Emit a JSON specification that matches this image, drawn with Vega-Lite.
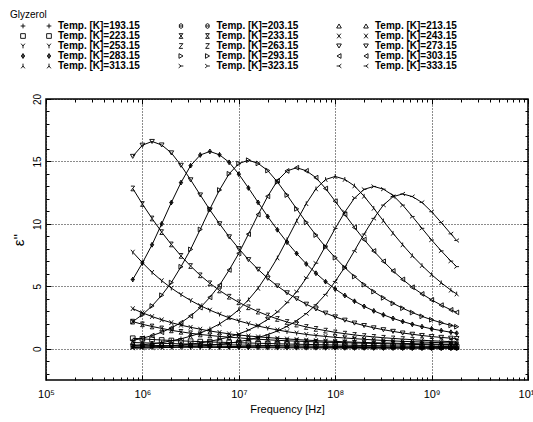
{
"$schema":"https://vega.github.io/schema/vega-lite/v6.json",
"width":482,"height":281,
"autosize":{"type":"none"},
"padding":{"left":46,"top":99,"right":5,"bottom":42},
"background":"white",
"config":{"view":{"stroke":"black","strokeWidth":1.5},"font":"Liberation Sans","axis":{"labelFont":"Liberation Sans","titleFont":"Liberation Sans","labelColor":"black","titleColor":"black","tickColor":"black"}},
"title":{"text":"Glyzerol","anchor":"start","frame":"group","fontSize":10,"fontWeight":"normal","font":"Liberation Sans","color":"black","dx":-36,"offset":1},
"data":{"values":[
{"T":193.15,"f":7.943e5,"e":0.16},{"T":193.15,"f":1e6,"e":0.153},{"T":193.15,"f":1.259e6,"e":0.147},{"T":193.15,"f":1.585e6,"e":0.14},{"T":193.15,"f":1.995e6,"e":0.133},{"T":193.15,"f":2.512e6,"e":0.127},{"T":193.15,"f":3.162e6,"e":0.122},{"T":193.15,"f":3.981e6,"e":0.115},{"T":193.15,"f":5.012e6,"e":0.111},{"T":193.15,"f":6.31e6,"e":0.107},{"T":193.15,"f":7.943e6,"e":0.102},{"T":193.15,"f":1e7,"e":0.098},{"T":193.15,"f":1.259e7,"e":0.093},{"T":193.15,"f":1.585e7,"e":0.089},{"T":193.15,"f":1.995e7,"e":0.084},{"T":193.15,"f":2.512e7,"e":0.08},{"T":193.15,"f":3.162e7,"e":0.078},{"T":193.15,"f":3.981e7,"e":0.073},{"T":193.15,"f":5.012e7,"e":0.071},{"T":193.15,"f":6.31e7,"e":0.067},{"T":193.15,"f":7.943e7,"e":0.064},{"T":193.15,"f":1e8,"e":0.062},{"T":193.15,"f":1.259e8,"e":0.058},{"T":193.15,"f":1.585e8,"e":0.056},{"T":193.15,"f":1.995e8,"e":0.053},{"T":193.15,"f":2.512e8,"e":0.051},{"T":193.15,"f":3.162e8,"e":0.049},{"T":193.15,"f":3.981e8,"e":0.047},{"T":193.15,"f":5.012e8,"e":0.044},{"T":193.15,"f":6.31e8,"e":0.042},{"T":193.15,"f":7.943e8,"e":0.04},{"T":193.15,"f":1e9,"e":0.038},{"T":193.15,"f":1.259e9,"e":0.038},{"T":193.15,"f":1.585e9,"e":0.036},{"T":193.15,"f":1.82e9,"e":0.036},
{"T":203.15,"f":7.943e5,"e":0.297},{"T":203.15,"f":1e6,"e":0.282},{"T":203.15,"f":1.259e6,"e":0.271},{"T":203.15,"f":1.585e6,"e":0.258},{"T":203.15,"f":1.995e6,"e":0.247},{"T":203.15,"f":2.512e6,"e":0.234},{"T":203.15,"f":3.162e6,"e":0.224},{"T":203.15,"f":3.981e6,"e":0.215},{"T":203.15,"f":5.012e6,"e":0.204},{"T":203.15,"f":6.31e6,"e":0.196},{"T":203.15,"f":7.943e6,"e":0.187},{"T":203.15,"f":1e7,"e":0.178},{"T":203.15,"f":1.259e7,"e":0.17},{"T":203.15,"f":1.585e7,"e":0.163},{"T":203.15,"f":1.995e7,"e":0.155},{"T":203.15,"f":2.512e7,"e":0.148},{"T":203.15,"f":3.162e7,"e":0.142},{"T":203.15,"f":3.981e7,"e":0.135},{"T":203.15,"f":5.012e7,"e":0.129},{"T":203.15,"f":6.31e7,"e":0.123},{"T":203.15,"f":7.943e7,"e":0.118},{"T":203.15,"f":1e8,"e":0.112},{"T":203.15,"f":1.259e8,"e":0.108},{"T":203.15,"f":1.585e8,"e":0.103},{"T":203.15,"f":1.995e8,"e":0.099},{"T":203.15,"f":2.512e8,"e":0.095},{"T":203.15,"f":3.162e8,"e":0.09},{"T":203.15,"f":3.981e8,"e":0.086},{"T":203.15,"f":5.012e8,"e":0.082},{"T":203.15,"f":6.31e8,"e":0.077},{"T":203.15,"f":7.943e8,"e":0.075},{"T":203.15,"f":1e9,"e":0.071},{"T":203.15,"f":1.259e9,"e":0.069},{"T":203.15,"f":1.585e9,"e":0.065},{"T":203.15,"f":1.82e9,"e":0.062},
{"T":213.15,"f":7.943e5,"e":0.499},{"T":213.15,"f":1e6,"e":0.478},{"T":213.15,"f":1.259e6,"e":0.458},{"T":213.15,"f":1.585e6,"e":0.437},{"T":213.15,"f":1.995e6,"e":0.416},{"T":213.15,"f":2.512e6,"e":0.395},{"T":213.15,"f":3.162e6,"e":0.376},{"T":213.15,"f":3.981e6,"e":0.36},{"T":213.15,"f":5.012e6,"e":0.345},{"T":213.15,"f":6.31e6,"e":0.329},{"T":213.15,"f":7.943e6,"e":0.314},{"T":213.15,"f":1e7,"e":0.3},{"T":213.15,"f":1.259e7,"e":0.287},{"T":213.15,"f":1.585e7,"e":0.272},{"T":213.15,"f":1.995e7,"e":0.262},{"T":213.15,"f":2.512e7,"e":0.25},{"T":213.15,"f":3.162e7,"e":0.239},{"T":213.15,"f":3.981e7,"e":0.227},{"T":213.15,"f":5.012e7,"e":0.216},{"T":213.15,"f":6.31e7,"e":0.208},{"T":213.15,"f":7.943e7,"e":0.198},{"T":213.15,"f":1e8,"e":0.189},{"T":213.15,"f":1.259e8,"e":0.181},{"T":213.15,"f":1.585e8,"e":0.173},{"T":213.15,"f":1.995e8,"e":0.164},{"T":213.15,"f":2.512e8,"e":0.158},{"T":213.15,"f":3.162e8,"e":0.15},{"T":213.15,"f":3.981e8,"e":0.144},{"T":213.15,"f":5.012e8,"e":0.137},{"T":213.15,"f":6.31e8,"e":0.131},{"T":213.15,"f":7.943e8,"e":0.125},{"T":213.15,"f":1e9,"e":0.119},{"T":213.15,"f":1.259e9,"e":0.114},{"T":213.15,"f":1.585e9,"e":0.108},{"T":213.15,"f":1.82e9,"e":0.106},
{"T":223.15,"f":7.943e5,"e":0.844},{"T":223.15,"f":1e6,"e":0.794},{"T":223.15,"f":1.259e6,"e":0.744},{"T":223.15,"f":1.585e6,"e":0.704},{"T":223.15,"f":1.995e6,"e":0.663},{"T":223.15,"f":2.512e6,"e":0.633},{"T":223.15,"f":3.162e6,"e":0.603},{"T":223.15,"f":3.981e6,"e":0.573},{"T":223.15,"f":5.012e6,"e":0.543},{"T":223.15,"f":6.31e6,"e":0.523},{"T":223.15,"f":7.943e6,"e":0.503},{"T":223.15,"f":1e7,"e":0.482},{"T":223.15,"f":1.259e7,"e":0.462},{"T":223.15,"f":1.585e7,"e":0.442},{"T":223.15,"f":1.995e7,"e":0.422},{"T":223.15,"f":2.512e7,"e":0.402},{"T":223.15,"f":3.162e7,"e":0.382},{"T":223.15,"f":3.981e7,"e":0.364},{"T":223.15,"f":5.012e7,"e":0.348},{"T":223.15,"f":6.31e7,"e":0.334},{"T":223.15,"f":7.943e7,"e":0.318},{"T":223.15,"f":1e8,"e":0.304},{"T":223.15,"f":1.259e8,"e":0.289},{"T":223.15,"f":1.585e8,"e":0.277},{"T":223.15,"f":1.995e8,"e":0.263},{"T":223.15,"f":2.512e8,"e":0.253},{"T":223.15,"f":3.162e8,"e":0.241},{"T":223.15,"f":3.981e8,"e":0.231},{"T":223.15,"f":5.012e8,"e":0.219},{"T":223.15,"f":6.31e8,"e":0.209},{"T":223.15,"f":7.943e8,"e":0.201},{"T":223.15,"f":1e9,"e":0.191},{"T":223.15,"f":1.259e9,"e":0.183},{"T":223.15,"f":1.585e9,"e":0.175},{"T":223.15,"f":1.82e9,"e":0.171},
{"T":233.15,"f":7.943e5,"e":2.173},{"T":233.15,"f":1e6,"e":1.959},{"T":233.15,"f":1.259e6,"e":1.785},{"T":233.15,"f":1.585e6,"e":1.63},{"T":233.15,"f":1.995e6,"e":1.474},{"T":233.15,"f":2.512e6,"e":1.358},{"T":233.15,"f":3.162e6,"e":1.242},{"T":233.15,"f":3.981e6,"e":1.145},{"T":233.15,"f":5.012e6,"e":1.067},{"T":233.15,"f":6.31e6,"e":0.989},{"T":233.15,"f":7.943e6,"e":0.931},{"T":233.15,"f":1e7,"e":0.873},{"T":233.15,"f":1.259e7,"e":0.815},{"T":233.15,"f":1.585e7,"e":0.766},{"T":233.15,"f":1.995e7,"e":0.718},{"T":233.15,"f":2.512e7,"e":0.679},{"T":233.15,"f":3.162e7,"e":0.64},{"T":233.15,"f":3.981e7,"e":0.611},{"T":233.15,"f":5.012e7,"e":0.582},{"T":233.15,"f":6.31e7,"e":0.553},{"T":233.15,"f":7.943e7,"e":0.524},{"T":233.15,"f":1e8,"e":0.504},{"T":233.15,"f":1.259e8,"e":0.485},{"T":233.15,"f":1.585e8,"e":0.466},{"T":233.15,"f":1.995e8,"e":0.446},{"T":233.15,"f":2.512e8,"e":0.427},{"T":233.15,"f":3.162e8,"e":0.407},{"T":233.15,"f":3.981e8,"e":0.388},{"T":233.15,"f":5.012e8,"e":0.369},{"T":233.15,"f":6.31e8,"e":0.351},{"T":233.15,"f":7.943e8,"e":0.336},{"T":233.15,"f":1e9,"e":0.322},{"T":233.15,"f":1.259e9,"e":0.307},{"T":233.15,"f":1.585e9,"e":0.293},{"T":233.15,"f":1.82e9,"e":0.285},
{"T":243.15,"f":7.943e5,"e":3.216},{"T":243.15,"f":1e6,"e":2.88},{"T":243.15,"f":1.259e6,"e":2.581},{"T":243.15,"f":1.585e6,"e":2.319},{"T":243.15,"f":1.995e6,"e":2.094},{"T":243.15,"f":2.512e6,"e":1.889},{"T":243.15,"f":3.162e6,"e":1.72},{"T":243.15,"f":3.981e6,"e":1.571},{"T":243.15,"f":5.012e6,"e":1.421},{"T":243.15,"f":6.31e6,"e":1.309},{"T":243.15,"f":7.943e6,"e":1.197},{"T":243.15,"f":1e7,"e":1.103},{"T":243.15,"f":1.259e7,"e":1.029},{"T":243.15,"f":1.585e7,"e":0.954},{"T":243.15,"f":1.995e7,"e":0.898},{"T":243.15,"f":2.512e7,"e":0.842},{"T":243.15,"f":3.162e7,"e":0.785},{"T":243.15,"f":3.981e7,"e":0.739},{"T":243.15,"f":5.012e7,"e":0.692},{"T":243.15,"f":6.31e7,"e":0.655},{"T":243.15,"f":7.943e7,"e":0.617},{"T":243.15,"f":1e8,"e":0.589},{"T":243.15,"f":1.259e8,"e":0.561},{"T":243.15,"f":1.585e8,"e":0.533},{"T":243.15,"f":1.995e8,"e":0.505},{"T":243.15,"f":2.512e8,"e":0.486},{"T":243.15,"f":3.162e8,"e":0.468},{"T":243.15,"f":3.981e8,"e":0.449},{"T":243.15,"f":5.012e8,"e":0.43},{"T":243.15,"f":6.31e8,"e":0.411},{"T":243.15,"f":7.943e8,"e":0.393},{"T":243.15,"f":1e9,"e":0.374},{"T":243.15,"f":1.259e9,"e":0.355},{"T":243.15,"f":1.585e9,"e":0.338},{"T":243.15,"f":1.82e9,"e":0.329},
{"T":253.15,"f":7.943e5,"e":7.74},{"T":253.15,"f":1e6,"e":6.894},{"T":253.15,"f":1.259e6,"e":6.12},{"T":253.15,"f":1.585e6,"e":5.454},{"T":253.15,"f":1.995e6,"e":4.86},{"T":253.15,"f":2.512e6,"e":4.338},{"T":253.15,"f":3.162e6,"e":3.87},{"T":253.15,"f":3.981e6,"e":3.456},{"T":253.15,"f":5.012e6,"e":3.096},{"T":253.15,"f":6.31e6,"e":2.772},{"T":253.15,"f":7.943e6,"e":2.484},{"T":253.15,"f":1e7,"e":2.232},{"T":253.15,"f":1.259e7,"e":2.016},{"T":253.15,"f":1.585e7,"e":1.818},{"T":253.15,"f":1.995e7,"e":1.656},{"T":253.15,"f":2.512e7,"e":1.512},{"T":253.15,"f":3.162e7,"e":1.368},{"T":253.15,"f":3.981e7,"e":1.26},{"T":253.15,"f":5.012e7,"e":1.152},{"T":253.15,"f":6.31e7,"e":1.062},{"T":253.15,"f":7.943e7,"e":0.99},{"T":253.15,"f":1e8,"e":0.918},{"T":253.15,"f":1.259e8,"e":0.864},{"T":253.15,"f":1.585e8,"e":0.81},{"T":253.15,"f":1.995e8,"e":0.756},{"T":253.15,"f":2.512e8,"e":0.711},{"T":253.15,"f":3.162e8,"e":0.666},{"T":253.15,"f":3.981e8,"e":0.63},{"T":253.15,"f":5.012e8,"e":0.594},{"T":253.15,"f":6.31e8,"e":0.567},{"T":253.15,"f":7.943e8,"e":0.54},{"T":253.15,"f":1e9,"e":0.513},{"T":253.15,"f":1.259e9,"e":0.486},{"T":253.15,"f":1.585e9,"e":0.468},{"T":253.15,"f":1.82e9,"e":0.457},
{"T":263.15,"f":7.943e5,"e":12.837},{"T":263.15,"f":1e6,"e":11.591},{"T":263.15,"f":1.259e6,"e":10.432},{"T":263.15,"f":1.585e6,"e":9.342},{"T":263.15,"f":1.995e6,"e":8.356},{"T":263.15,"f":2.512e6,"e":7.439},{"T":263.15,"f":3.162e6,"e":6.626},{"T":263.15,"f":3.981e6,"e":5.882},{"T":263.15,"f":5.012e6,"e":5.242},{"T":263.15,"f":6.31e6,"e":4.671},{"T":263.15,"f":7.943e6,"e":4.169},{"T":263.15,"f":1e7,"e":3.72},{"T":263.15,"f":1.259e7,"e":3.322},{"T":263.15,"f":1.585e7,"e":2.976},{"T":263.15,"f":1.995e7,"e":2.664},{"T":263.15,"f":2.512e7,"e":2.387},{"T":263.15,"f":3.162e7,"e":2.145},{"T":263.15,"f":3.981e7,"e":1.938},{"T":263.15,"f":5.012e7,"e":1.747},{"T":263.15,"f":6.31e7,"e":1.592},{"T":263.15,"f":7.943e7,"e":1.453},{"T":263.15,"f":1e8,"e":1.315},{"T":263.15,"f":1.259e8,"e":1.211},{"T":263.15,"f":1.585e8,"e":1.107},{"T":263.15,"f":1.995e8,"e":1.021},{"T":263.15,"f":2.512e8,"e":0.952},{"T":263.15,"f":3.162e8,"e":0.882},{"T":263.15,"f":3.981e8,"e":0.83},{"T":263.15,"f":5.012e8,"e":0.779},{"T":263.15,"f":6.31e8,"e":0.727},{"T":263.15,"f":7.943e8,"e":0.683},{"T":263.15,"f":1e9,"e":0.64},{"T":263.15,"f":1.259e9,"e":0.606},{"T":263.15,"f":1.585e9,"e":0.571},{"T":263.15,"f":1.82e9,"e":0.555},
{"T":273.15,"f":7.943e5,"e":15.405},{"T":273.15,"f":1e6,"e":16.301},{"T":273.15,"f":1.259e6,"e":16.6},{"T":273.15,"f":1.585e6,"e":16.318},{"T":273.15,"f":1.995e6,"e":15.687},{"T":273.15,"f":2.512e6,"e":14.691},{"T":273.15,"f":3.162e6,"e":13.529},{"T":273.15,"f":3.981e6,"e":12.317},{"T":273.15,"f":5.012e6,"e":11.122},{"T":273.15,"f":6.31e6,"e":10.01},{"T":273.15,"f":7.943e6,"e":8.964},{"T":273.15,"f":1e7,"e":8.018},{"T":273.15,"f":1.259e7,"e":7.138},{"T":273.15,"f":1.585e7,"e":6.358},{"T":273.15,"f":1.995e7,"e":5.644},{"T":273.15,"f":2.512e7,"e":5.03},{"T":273.15,"f":3.162e7,"e":4.482},{"T":273.15,"f":3.981e7,"e":4.001},{"T":273.15,"f":5.012e7,"e":3.569},{"T":273.15,"f":6.31e7,"e":3.187},{"T":273.15,"f":7.943e7,"e":2.855},{"T":273.15,"f":1e8,"e":2.556},{"T":273.15,"f":1.259e8,"e":2.291},{"T":273.15,"f":1.585e8,"e":2.058},{"T":273.15,"f":1.995e8,"e":1.859},{"T":273.15,"f":2.512e8,"e":1.677},{"T":273.15,"f":3.162e8,"e":1.527},{"T":273.15,"f":3.981e8,"e":1.394},{"T":273.15,"f":5.012e8,"e":1.262},{"T":273.15,"f":6.31e8,"e":1.162},{"T":273.15,"f":7.943e8,"e":1.062},{"T":273.15,"f":1e9,"e":0.979},{"T":273.15,"f":1.259e9,"e":0.913},{"T":273.15,"f":1.585e9,"e":0.847},{"T":273.15,"f":1.82e9,"e":0.817},
{"T":283.15,"f":7.943e5,"e":5.546},{"T":283.15,"f":1e6,"e":6.873},{"T":283.15,"f":1.259e6,"e":8.327},{"T":283.15,"f":1.585e6,"e":10.001},{"T":283.15,"f":1.995e6,"e":11.708},{"T":283.15,"f":2.512e6,"e":13.304},{"T":283.15,"f":3.162e6,"e":14.662},{"T":283.15,"f":3.981e6,"e":15.516},{"T":283.15,"f":5.012e6,"e":15.8},{"T":283.15,"f":6.31e6,"e":15.531},{"T":283.15,"f":7.943e6,"e":14.931},{"T":283.15,"f":1e7,"e":13.983},{"T":283.15,"f":1.259e7,"e":12.877},{"T":283.15,"f":1.585e7,"e":11.724},{"T":283.15,"f":1.995e7,"e":10.586},{"T":283.15,"f":2.512e7,"e":9.527},{"T":283.15,"f":3.162e7,"e":8.532},{"T":283.15,"f":3.981e7,"e":7.631},{"T":283.15,"f":5.012e7,"e":6.794},{"T":283.15,"f":6.31e7,"e":6.051},{"T":283.15,"f":7.943e7,"e":5.372},{"T":283.15,"f":1e8,"e":4.787},{"T":283.15,"f":1.259e8,"e":4.266},{"T":283.15,"f":1.585e8,"e":3.808},{"T":283.15,"f":1.995e8,"e":3.397},{"T":283.15,"f":2.512e8,"e":3.034},{"T":283.15,"f":3.162e8,"e":2.718},{"T":283.15,"f":3.981e8,"e":2.433},{"T":283.15,"f":5.012e8,"e":2.18},{"T":283.15,"f":6.31e8,"e":1.959},{"T":283.15,"f":7.943e8,"e":1.77},{"T":283.15,"f":1e9,"e":1.596},{"T":283.15,"f":1.259e9,"e":1.454},{"T":283.15,"f":1.585e9,"e":1.327},{"T":283.15,"f":1.82e9,"e":1.248},
{"T":293.15,"f":7.943e5,"e":2.174},{"T":293.15,"f":1e6,"e":2.733},{"T":293.15,"f":1.259e6,"e":3.428},{"T":293.15,"f":1.585e6,"e":4.288},{"T":293.15,"f":1.995e6,"e":5.3},{"T":293.15,"f":2.512e6,"e":6.569},{"T":293.15,"f":3.162e6,"e":7.958},{"T":293.15,"f":3.981e6,"e":9.558},{"T":293.15,"f":5.012e6,"e":11.189},{"T":293.15,"f":6.31e6,"e":12.714},{"T":293.15,"f":7.943e6,"e":14.013},{"T":293.15,"f":1e7,"e":14.828},{"T":293.15,"f":1.259e7,"e":15.1},{"T":293.15,"f":1.585e7,"e":14.843},{"T":293.15,"f":1.995e7,"e":14.27},{"T":293.15,"f":2.512e7,"e":13.364},{"T":293.15,"f":3.162e7,"e":12.307},{"T":293.15,"f":3.981e7,"e":11.204},{"T":293.15,"f":5.012e7,"e":10.117},{"T":293.15,"f":6.31e7,"e":9.105},{"T":293.15,"f":7.943e7,"e":8.154},{"T":293.15,"f":1e8,"e":7.293},{"T":293.15,"f":1.259e8,"e":6.493},{"T":293.15,"f":1.585e8,"e":5.783},{"T":293.15,"f":1.995e8,"e":5.134},{"T":293.15,"f":2.512e8,"e":4.575},{"T":293.15,"f":3.162e8,"e":4.077},{"T":293.15,"f":3.981e8,"e":3.639},{"T":293.15,"f":5.012e8,"e":3.247},{"T":293.15,"f":6.31e8,"e":2.899},{"T":293.15,"f":7.943e8,"e":2.597},{"T":293.15,"f":1e9,"e":2.325},{"T":293.15,"f":1.259e9,"e":2.084},{"T":293.15,"f":1.585e9,"e":1.872},{"T":293.15,"f":1.82e9,"e":1.767},
{"T":303.15,"f":7.943e5,"e":0.667},{"T":303.15,"f":1e6,"e":0.841},{"T":303.15,"f":1.259e6,"e":1.059},{"T":303.15,"f":1.585e6,"e":1.32},{"T":303.15,"f":1.995e6,"e":1.668},{"T":303.15,"f":2.512e6,"e":2.088},{"T":303.15,"f":3.162e6,"e":2.625},{"T":303.15,"f":3.981e6,"e":3.292},{"T":303.15,"f":5.012e6,"e":4.118},{"T":303.15,"f":6.31e6,"e":5.09},{"T":303.15,"f":7.943e6,"e":6.308},{"T":303.15,"f":1e7,"e":7.642},{"T":303.15,"f":1.259e7,"e":9.179},{"T":303.15,"f":1.585e7,"e":10.745},{"T":303.15,"f":1.995e7,"e":12.209},{"T":303.15,"f":2.512e7,"e":13.456},{"T":303.15,"f":3.162e7,"e":14.239},{"T":303.15,"f":3.981e7,"e":14.5},{"T":303.15,"f":5.012e7,"e":14.254},{"T":303.15,"f":6.31e7,"e":13.703},{"T":303.15,"f":7.943e7,"e":12.833},{"T":303.15,"f":1e8,"e":11.818},{"T":303.15,"f":1.259e8,"e":10.759},{"T":303.15,"f":1.585e8,"e":9.715},{"T":303.15,"f":1.995e8,"e":8.744},{"T":303.15,"f":2.512e8,"e":7.83},{"T":303.15,"f":3.162e8,"e":7.004},{"T":303.15,"f":3.981e8,"e":6.235},{"T":303.15,"f":5.012e8,"e":5.554},{"T":303.15,"f":6.31e8,"e":4.93},{"T":303.15,"f":7.943e8,"e":4.394},{"T":303.15,"f":1e9,"e":3.915},{"T":303.15,"f":1.259e9,"e":3.495},{"T":303.15,"f":1.585e9,"e":3.118},{"T":303.15,"f":1.82e9,"e":2.915},
{"T":313.15,"f":7.943e5,"e":0.248},{"T":313.15,"f":1e6,"e":0.317},{"T":313.15,"f":1.259e6,"e":0.4},{"T":313.15,"f":1.585e6,"e":0.497},{"T":313.15,"f":1.995e6,"e":0.635},{"T":313.15,"f":2.512e6,"e":0.8},{"T":313.15,"f":3.162e6,"e":1.007},{"T":313.15,"f":3.981e6,"e":1.256},{"T":313.15,"f":5.012e6,"e":1.587},{"T":313.15,"f":6.31e6,"e":1.987},{"T":313.15,"f":7.943e6,"e":2.498},{"T":313.15,"f":1e7,"e":3.133},{"T":313.15,"f":1.259e7,"e":3.919},{"T":313.15,"f":1.585e7,"e":4.844},{"T":313.15,"f":1.995e7,"e":6.003},{"T":313.15,"f":2.512e7,"e":7.273},{"T":313.15,"f":3.162e7,"e":8.735},{"T":313.15,"f":3.981e7,"e":10.226},{"T":313.15,"f":5.012e7,"e":11.62},{"T":313.15,"f":6.31e7,"e":12.806},{"T":313.15,"f":7.943e7,"e":13.552},{"T":313.15,"f":1e8,"e":13.8},{"T":313.15,"f":1.259e8,"e":13.565},{"T":313.15,"f":1.585e8,"e":13.041},{"T":313.15,"f":1.995e8,"e":12.213},{"T":313.15,"f":2.512e8,"e":11.247},{"T":313.15,"f":3.162e8,"e":10.24},{"T":313.15,"f":3.981e8,"e":9.246},{"T":313.15,"f":5.012e8,"e":8.321},{"T":313.15,"f":6.31e8,"e":7.452},{"T":313.15,"f":7.943e8,"e":6.665},{"T":313.15,"f":1e9,"e":5.934},{"T":313.15,"f":1.259e9,"e":5.285},{"T":313.15,"f":1.585e9,"e":4.692},{"T":313.15,"f":1.82e9,"e":4.388},
{"T":323.15,"f":7.943e5,"e":0.095},{"T":323.15,"f":1e6,"e":0.12},{"T":323.15,"f":1.259e6,"e":0.15},{"T":323.15,"f":1.585e6,"e":0.189},{"T":323.15,"f":1.995e6,"e":0.234},{"T":323.15,"f":2.512e6,"e":0.299},{"T":323.15,"f":3.162e6,"e":0.377},{"T":323.15,"f":3.981e6,"e":0.468},{"T":323.15,"f":5.012e6,"e":0.598},{"T":323.15,"f":6.31e6,"e":0.754},{"T":323.15,"f":7.943e6,"e":0.949},{"T":323.15,"f":1e7,"e":1.183},{"T":323.15,"f":1.259e7,"e":1.495},{"T":323.15,"f":1.585e7,"e":1.872},{"T":323.15,"f":1.995e7,"e":2.353},{"T":323.15,"f":2.512e7,"e":2.951},{"T":323.15,"f":3.162e7,"e":3.692},{"T":323.15,"f":3.981e7,"e":4.563},{"T":323.15,"f":5.012e7,"e":5.655},{"T":323.15,"f":6.31e7,"e":6.851},{"T":323.15,"f":7.943e7,"e":8.229},{"T":323.15,"f":1e8,"e":9.633},{"T":323.15,"f":1.259e8,"e":10.946},{"T":323.15,"f":1.585e8,"e":12.064},{"T":323.15,"f":1.995e8,"e":12.766},{"T":323.15,"f":2.512e8,"e":13.0},{"T":323.15,"f":3.162e8,"e":12.779},{"T":323.15,"f":3.981e8,"e":12.285},{"T":323.15,"f":5.012e8,"e":11.505},{"T":323.15,"f":6.31e8,"e":10.595},{"T":323.15,"f":7.943e8,"e":9.646},{"T":323.15,"f":1e9,"e":8.71},{"T":323.15,"f":1.259e9,"e":7.839},{"T":323.15,"f":1.585e9,"e":7.02},{"T":323.15,"f":1.82e9,"e":6.578},
{"T":333.15,"f":7.943e5,"e":0.046},{"T":333.15,"f":1e6,"e":0.057},{"T":333.15,"f":1.259e6,"e":0.072},{"T":333.15,"f":1.585e6,"e":0.091},{"T":333.15,"f":1.995e6,"e":0.114},{"T":333.15,"f":2.512e6,"e":0.143},{"T":333.15,"f":3.162e6,"e":0.18},{"T":333.15,"f":3.981e6,"e":0.223},{"T":333.15,"f":5.012e6,"e":0.285},{"T":333.15,"f":6.31e6,"e":0.36},{"T":333.15,"f":7.943e6,"e":0.446},{"T":333.15,"f":1e7,"e":0.57},{"T":333.15,"f":1.259e7,"e":0.719},{"T":333.15,"f":1.585e7,"e":0.905},{"T":333.15,"f":1.995e7,"e":1.128},{"T":333.15,"f":2.512e7,"e":1.426},{"T":333.15,"f":3.162e7,"e":1.786},{"T":333.15,"f":3.981e7,"e":2.244},{"T":333.15,"f":5.012e7,"e":2.815},{"T":333.15,"f":6.31e7,"e":3.522},{"T":333.15,"f":7.943e7,"e":4.352},{"T":333.15,"f":1e8,"e":5.394},{"T":333.15,"f":1.259e8,"e":6.535},{"T":333.15,"f":1.585e8,"e":7.849},{"T":333.15,"f":1.995e8,"e":9.188},{"T":333.15,"f":2.512e8,"e":10.441},{"T":333.15,"f":3.162e8,"e":11.507},{"T":333.15,"f":3.981e8,"e":12.177},{"T":333.15,"f":5.012e8,"e":12.4},{"T":333.15,"f":6.31e8,"e":12.189},{"T":333.15,"f":7.943e8,"e":11.718},{"T":333.15,"f":1e9,"e":10.974},{"T":333.15,"f":1.259e9,"e":10.106},{"T":333.15,"f":1.585e9,"e":9.201},{"T":333.15,"f":1.82e9,"e":8.668}
]},
"layer":[
{"mark":{"type":"line","color":"black","strokeWidth":1},
 "encoding":{
  "x":{"field":"f","type":"quantitative","scale":{"type":"log","domain":[1e5,1e10],"nice":false},
   "axis":{"orient":"bottom","values":[1e5,1e6,1e7,1e8,1e9,1e10],"labelExpr":"'10' + ['⁵','⁶','⁷','⁸','⁹','¹⁰'][round(log(datum.value)/LN10)-5]","title":"Frequency [Hz]","titleFontSize":11,"titleFontWeight":"normal","titlePadding":4,"labelFontSize":11,"labelPadding":13,"tickSize":-5,"grid":true,"gridDash":[1,2],"gridColor":"black","gridOpacity":0.9,"domain":false,"labelFlush":false,"labelOverlap":false}},
  "y":{"field":"e","type":"quantitative","scale":{"domain":[-2.5,20],"nice":false,"zero":false},
   "axis":{"orient":"left","values":[0,5,10,15,20],"title":"ε''","titleFontSize":15,"titleFontWeight":"normal","titlePadding":6,"labelAngle":270,"labelAlign":"center","labelBaseline":"bottom","labelFontSize":10,"labelPadding":9,"tickSize":-5,"grid":true,"gridDash":[1,2],"gridColor":"black","gridOpacity":0.9,"domain":false}},
  "detail":{"field":"T","type":"nominal"}}},
{"mark":{"type":"point","filled":false,"stroke":"black","strokeWidth":0.9,"size":22,"opacity":1},
 "encoding":{
  "x":{"field":"f","type":"quantitative","scale":{"type":"log","domain":[1e5,1e10],"nice":false},
   "axis":{"orient":"top","values":[1e5,1e6,1e7,1e8,1e9,1e10],"labels":false,"title":null,"tickSize":-5,"grid":false,"domain":false}},
  "y":{"field":"e","type":"quantitative","scale":{"domain":[-2.5,20],"nice":false,"zero":false},
   "axis":{"orient":"right","values":[0,5,10,15,20],"labels":false,"title":null,"tickSize":-5,"grid":false,"domain":false}},
  "shape":{"field":"T","type":"nominal",
   "scale":{"domain":[193.15,223.15,253.15,283.15,313.15,203.15,233.15,263.15,293.15,323.15,213.15,243.15,273.15,303.15,333.15],
    "range":["M-1,0H1M0,-1V1","square","M-0.8,-1L0,0L0.8,-1M0,0V1","M0,-1L0.7,0L0,1L-0.7,0ZM0,-1V1M-0.7,0H0.7","M-0.8,1L0,0L0.8,1M0,0V-1","M0,-1L0.7,-0.6L0.7,0.6L0,1L-0.7,0.6L-0.7,-0.6ZM-0.7,0H0.7","M-0.8,-1H0.8L-0.8,1H0.8Z","M-0.8,-1H0.8L-0.8,1H0.8","triangle-right","M-1,-0.8L0,0L-1,0.8M0,0H1","triangle-up","M-0.8,-1L0.8,1M0.8,-1L-0.8,1","triangle-down","triangle-left","M1,-0.8L0,0L1,0.8M0,0H-1"]},
   "legend":{"orient":"none","legendX":-2,"legendY":-78,"columns":3,"columnPadding":62.5,"gridAlign":"all","rowPadding":0,"padding":0,"title":null,"labelExpr":"'Temp. [K]=' + datum.label","labelFontSize":10,"labelFontWeight":"bold","labelFont":"Liberation Sans","labelColor":"black","labelLimit":0,"labelOffset":4,"symbolSize":22,"symbolStrokeColor":"black","symbolStrokeWidth":0.9,"symbolFillColor":"transparent","symbolOpacity":1}}}},
{"transform":[{"filter":"datum.f < 8e5"}],
 "mark":{"type":"point","filled":false,"stroke":"black","strokeWidth":0.9,"size":22,"opacity":0},
 "encoding":{
  "x":{"field":"f","type":"quantitative","scale":{"type":"log","domain":[1e5,1e10],"nice":false},
   "axis":{"orient":"bottom","values":[2e5,3e5,4e5,5e5,6e5,7e5,8e5,9e5,2e6,3e6,4e6,5e6,6e6,7e6,8e6,9e6,2e7,3e7,4e7,5e7,6e7,7e7,8e7,9e7,2e8,3e8,4e8,5e8,6e8,7e8,8e8,9e8,2e9,3e9,4e9,5e9,6e9,7e9,8e9,9e9],"labels":false,"title":null,"tickSize":-3,"grid":false,"domain":false}},
  "y":{"field":"e","type":"quantitative","scale":{"domain":[-2.5,20],"nice":false,"zero":false},
   "axis":{"orient":"left","values":[-2,-1,1,2,3,4,6,7,8,9,11,12,13,14,16,17,18,19],"labels":false,"title":null,"tickSize":-3,"grid":false,"domain":false}},
  "shape":{"field":"T","type":"nominal",
   "scale":{"domain":[193.15,223.15,253.15,283.15,313.15,203.15,233.15,263.15,293.15,323.15,213.15,243.15,273.15,303.15,333.15],
    "range":["M-1,0H1M0,-1V1","square","M-0.8,-1L0,0L0.8,-1M0,0V1","M0,-1L0.7,0L0,1L-0.7,0ZM0,-1V1M-0.7,0H0.7","M-0.8,1L0,0L0.8,1M0,0V-1","M0,-1L0.7,-0.6L0.7,0.6L0,1L-0.7,0.6L-0.7,-0.6ZM-0.7,0H0.7","M-0.8,-1H0.8L-0.8,1H0.8Z","M-0.8,-1H0.8L-0.8,1H0.8","triangle-right","M-1,-0.8L0,0L-1,0.8M0,0H1","triangle-up","M-0.8,-1L0.8,1M0.8,-1L-0.8,1","triangle-down","triangle-left","M1,-0.8L0,0L1,0.8M0,0H-1"]},
   "legend":{"orient":"none","legendX":-28,"legendY":-78,"columns":3,"columnPadding":148,"gridAlign":"all","rowPadding":0,"padding":0,"title":null,"labelExpr":"' '","labelFontSize":10,"labelFontWeight":"bold","labelOffset":0,"symbolSize":22,"symbolStrokeColor":"black","symbolStrokeWidth":0.9,"symbolFillColor":"transparent","symbolOpacity":1}}}},
{"transform":[{"filter":"datum.f < 8e5"}],
 "mark":{"type":"point","opacity":0},
 "encoding":{
  "x":{"field":"f","type":"quantitative","scale":{"type":"log","domain":[1e5,1e10],"nice":false},
   "axis":{"orient":"top","values":[2e5,3e5,4e5,5e5,6e5,7e5,8e5,9e5,2e6,3e6,4e6,5e6,6e6,7e6,8e6,9e6,2e7,3e7,4e7,5e7,6e7,7e7,8e7,9e7,2e8,3e8,4e8,5e8,6e8,7e8,8e8,9e8,2e9,3e9,4e9,5e9,6e9,7e9,8e9,9e9],"labels":false,"title":null,"tickSize":-3,"grid":false,"domain":false}},
  "y":{"field":"e","type":"quantitative","scale":{"domain":[-2.5,20],"nice":false,"zero":false},
   "axis":{"orient":"right","values":[-2,-1,1,2,3,4,6,7,8,9,11,12,13,14,16,17,18,19],"labels":false,"title":null,"tickSize":-3,"grid":false,"domain":false}}}}
],
"resolve":{"axis":{"x":"independent","y":"independent"},"scale":{"shape":"independent"},"legend":{"shape":"independent"}}
}
